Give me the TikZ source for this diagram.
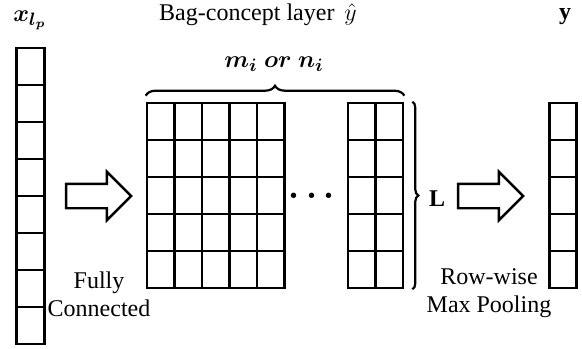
\documentclass[tikz,border=0pt]{standalone}
\usepackage{amsmath,bm}
\usepackage{fontspec}
\setmainfont{Liberation Serif}
\usetikzlibrary{positioning,shapes.arrows,decorations.pathreplacing}
\tikzset{
  cell/.style={draw, line width=1.3pt, minimum width=13.75pt, minimum height=18.5pt, inner sep=0pt},
  fatarrow/.style={single arrow, draw, line width=1.2pt, minimum height=32.5pt,
    inner xsep=0pt, inner ysep=5.5pt, single arrow head extend=6pt, single arrow tip angle=90},
  lbl/.style={font=\fontsize{12}{14}\selectfont, inner sep=0pt},
  capt/.style={lbl, align=center},
  dim/.style={decorate, decoration={brace, amplitude=#1}, line width=1.1pt},
}

\begin{document}
\begin{tikzpicture}[x=0.5pt,y=-0.5pt]
  \useasboundingbox (0,0) rectangle (582,348);
  % input vector
  \foreach \i in {1,...,8} { \node[cell] (x\i) at (30.5,29.5+37*\i) {}; }
  % bag-concept layer: first block, then the last two columns
  \foreach \r in {1,...,5} {
    \foreach \c in {1,...,5} { \node[cell] (a\r\c) at (133.25+27.5*\c,84.5+37*\r) {}; }
    \foreach \c in {1,2} { \node[cell] (b\r\c) at (334.25+27.5*\c,84.5+37*\r) {}; }
    \node[cell] (y\r) at (563,84.5+37*\r) {};
  }
  \node[lbl, font=\fontsize{16}{18}\selectfont] (dots) at (315,196) {$\bm{\cdots}$};
  % sizes
  \draw[dim=5pt] ([yshift=3pt]a11.north west) -- ([yshift=3pt]b12.north east);
  \draw[dim=3pt] ([xshift=4pt]b12.north east) -- ([xshift=4pt]b52.south east);
  \node[lbl, font=\fontsize{13}{15}\selectfont] (mn) at (274,64) {$\bm{m_i\ or\ n_i}$};
  \node[lbl, font=\fontsize{12}{14}\selectfont\bfseries] (len) at (437,199) {L};
  % operations
  \node[fatarrow] (fc) at (92.5,196) {};
  \node[fatarrow] (mp) at (484.5,196) {};
  \node[capt] (fctext) at (99,294) {Fully\\Connected};
  \node[capt] (mptext) at (489,293) {Row-wise\\Max Pooling};
  % titles
  \node[lbl, font=\fontsize{13}{15}\selectfont] (xt) at (30,20) {$\bm{x_{l_p}}$};
  \node[lbl] (bag) at (258,15) {Bag-concept layer\, $\hat{y}$};
  \node[lbl, font=\fontsize{12}{14}\selectfont\bfseries] (yt) at (565,17) {y};
\end{tikzpicture}
\end{document}
